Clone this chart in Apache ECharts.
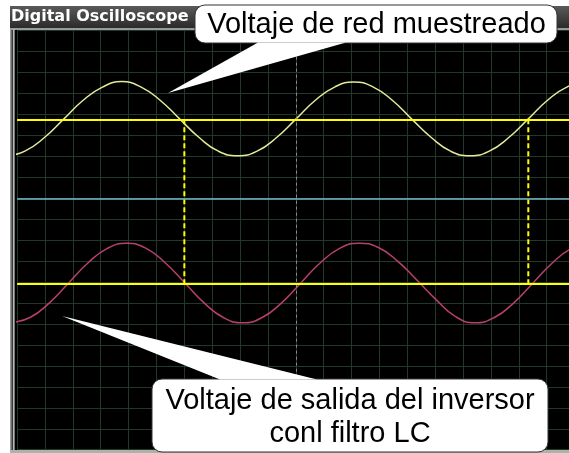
<!DOCTYPE html>
<html>
<head>
<meta charset="utf-8">
<script src="https://cdn.jsdelivr.net/npm/echarts@6/dist/echarts.min.js"></script>
<style>
  html, body { margin: 0; padding: 0; background: #fff; }
  #chart { width: 569px; height: 453px; }
</style>
</head>
<body>
<div id="chart"></div>
<script>
// eje de tiempo en divisiones de pantalla (centro = 0)
// voltaje de red muestreado (amarillo), leido cada ~0.7 div
const gridTime = [-10.41, -9.72, -9.02, -8.33, -7.64, -6.94, -6.25, -5.55, -4.86, -4.16, -3.47, -2.78, -2.08, -1.39, -0.69,
  0, 0.69, 1.39, 2.08, 2.78, 3.47, 4.16, 4.86, 5.55, 6.25, 6.94, 7.64, 8.33, 9.02, 9.72, 10.41]
const gridVoltage = [2.02, 2.25, 2.90, 3.78, 4.67, 5.31, 5.57, 5.31, 4.67, 3.78, 2.90, 2.25, 2.03, 2.25, 2.90,
  3.78, 4.67, 5.31, 5.55, 5.31, 4.67, 3.78, 2.90, 2.25, 2.03, 2.25, 2.90, 3.78, 4.67, 5.31, 5.55]

// voltaje de salida del inversor con filtro LC (magenta)
const inverterTime = [-10.23, -9.54, -8.84, -8.15, -7.46, -6.76, -6.07, -5.37, -4.68, -3.98, -3.29, -2.60, -1.90, -1.21, -0.51,
  0.18, 0.87, 1.57, 2.26, 2.96, 3.65, 4.34, 5.04, 5.73, 6.43, 7.12, 7.82, 8.51, 9.20, 9.90, 10.59]
const inverterVoltage = [-5.94, -5.69, -4.99, -4.04, -3.09, -2.39, -2.15, -2.39, -3.09, -4.04, -4.99, -5.69, -5.94, -5.69, -4.99,
  -4.04, -3.09, -2.39, -2.14, -2.35, -3.00, -3.90, -4.85, -5.65, -5.94, -5.69, -4.99, -4.04, -3.09, -2.39, -2.14]

// cursores
const cursorLevels = [3.77, -4.06]
const cursorTimes = [-4.0, 8.34]

const chart = echarts.init(document.getElementById('chart'))

const cursorSeries = cursorTimes.map(t => ({
  type: 'line',
  data: [[t, cursorLevels[0]], [t, cursorLevels[1]]],
  symbol: 'none',
  silent: true,
  z: 3,
  lineStyle: { color: '#ffff00', width: 2, type: [5, 3] }
}))

chart.setOption({
  animation: false,
  title: {
    text: 'Digital Oscilloscope',
    left: 11,
    top: 9,
    padding: 0,
    textStyle: { color: '#ffffff', fontFamily: 'DejaVu Sans', fontWeight: 'bold', fontSize: 16 }
  },
  grid: { left: 17.1, right: 0, top: 30.7, bottom: 3.3 },
  xAxis: {
    type: 'value',
    min: -10,
    max: 9.8,
    interval: 1,
    axisLine: { show: false },
    axisTick: { show: false },
    axisLabel: { show: false },
    splitLine: { lineStyle: { color: '#22392a', width: 1 } }
  },
  yAxis: {
    type: 'value',
    min: -12,
    max: 8,
    interval: 1,
    axisLine: { show: false },
    axisTick: { show: false },
    axisLabel: { show: false },
    splitLine: { lineStyle: { color: '#22392a', width: 1 } }
  },
  graphic: [
    // marco
    { type: 'rect', z: -100, silent: true, shape: { x: 10, y: 6, width: 559, height: 447 }, style: { fill: '#3a3a3a' } },
    {
      type: 'rect', z: -99, silent: true, shape: { x: 10, y: 6, width: 559, height: 22 },
      style: {
        fill: new echarts.graphic.LinearGradient(0, 0, 0, 1, [
          { offset: 0, color: '#5a5a5a' }, { offset: 1, color: '#2a2a2a' }
        ])
      }
    },
    { type: 'rect', z: -98, silent: true, shape: { x: 10, y: 28, width: 559, height: 2 }, style: { fill: '#9a9a9a' } },
    { type: 'rect', z: -98, silent: true, shape: { x: 10, y: 28, width: 1.5, height: 425 }, style: { fill: '#9a9a9a' } },
    { type: 'rect', z: -98, silent: true, shape: { x: 13, y: 29, width: 1.5, height: 424 }, style: { fill: '#b0b8b0' } },
    { type: 'rect', z: -97, silent: true, shape: { x: 15, y: 30, width: 554, height: 420 }, style: { fill: '#000000' } },
    { type: 'rect', z: -98, silent: true, shape: { x: 10, y: 450, width: 559, height: 3 }, style: { fill: '#a8b4a8' } },
    // globo superior
    { type: 'rect', z: 100, silent: true, shape: { x: 195, y: 5, width: 362, height: 38, r: 10 }, style: { fill: '#fff', stroke: '#333', lineWidth: 1 } },
    { type: 'polygon', z: 101, silent: true, shape: { points: [[258, 42.5], [168, 93], [346, 42.5]] }, style: { fill: '#fff' } },
    {
      type: 'text', z: 102, silent: true,
      style: {
        x: 376.5, y: 25, text: 'Voltaje de red muestreado',
        textAlign: 'center', textVerticalAlign: 'middle',
        font: '29px "Liberation Sans", Arial, sans-serif', fill: '#000'
      }
    },
    // globo inferior
    { type: 'rect', z: 100, silent: true, shape: { x: 152, y: 379, width: 396, height: 73, r: 10 }, style: { fill: '#fff', stroke: '#333', lineWidth: 1 } },
    { type: 'polygon', z: 101, silent: true, shape: { points: [[220, 379.5], [62, 316], [317, 379.5]] }, style: { fill: '#fff' } },
    {
      type: 'text', z: 102, silent: true,
      style: {
        x: 350, y: 417, text: 'Voltaje de salida del inversor\nconl filtro LC',
        textAlign: 'center', textVerticalAlign: 'middle', lineHeight: 33,
        font: '29px "Liberation Sans", Arial, sans-serif', fill: '#000'
      }
    }
  ],
  series: [
    {
      type: 'line',
      data: gridTime.map((t, i) => [t, gridVoltage[i]]),
      symbol: 'none',
      smooth: true,
      silent: true,
      z: 2,
      lineStyle: { color: '#e4ea98', width: 1.5 },
      markLine: {
        silent: true,
        symbol: 'none',
        label: { show: false },
        data: [
          { yAxis: 0, lineStyle: { color: '#74bccb', width: 1.5, type: 'solid' } },
          { xAxis: 0, lineStyle: { color: '#8a8a8a', width: 1, type: [3, 3] } }
        ]
      }
    },
    {
      type: 'line',
      data: inverterTime.map((t, i) => [t, inverterVoltage[i]]),
      symbol: 'none',
      smooth: true,
      silent: true,
      z: 2,
      lineStyle: { color: '#b8406c', width: 1.5 }
    },
    {
      type: 'line',
      data: [],
      silent: true,
      z: 3,
      markLine: {
        silent: true,
        symbol: 'none',
        label: { show: false },
        lineStyle: { color: '#ffff00', width: 2, type: 'solid' },
        data: cursorLevels.map(v => ({ yAxis: v }))
      }
    },
    ...cursorSeries
  ]
})
</script>
</body>
</html>
